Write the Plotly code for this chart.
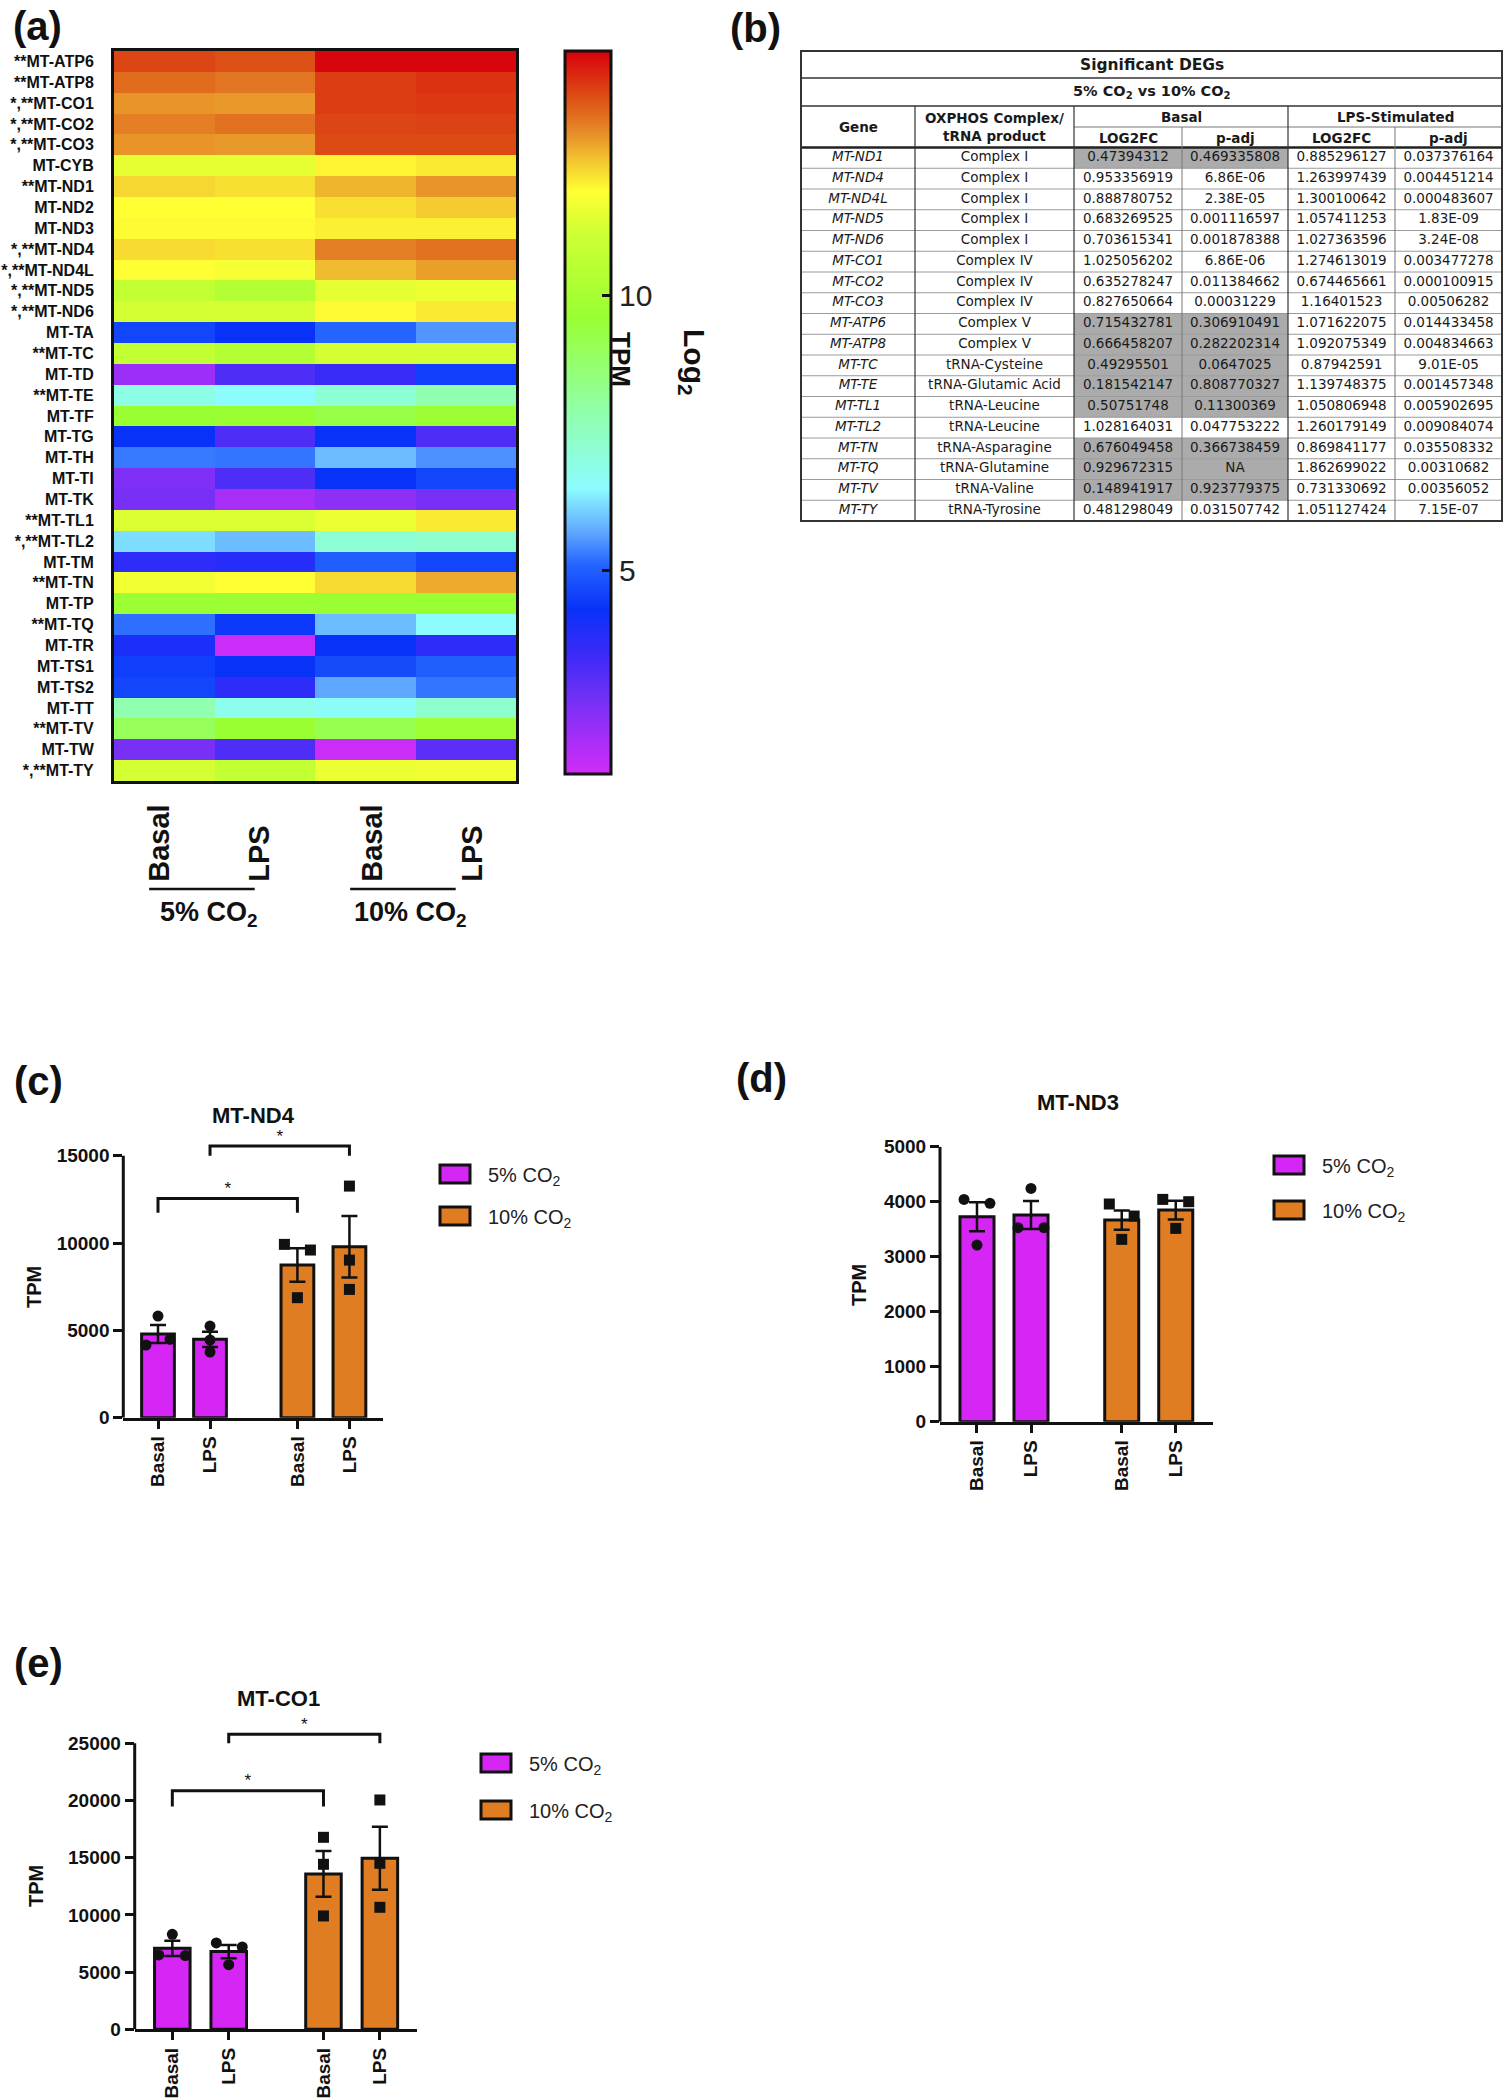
import plotly.graph_objects as go

W, H = 1505, 2100
FONT = "Liberation Sans, Arial, sans-serif"
TABLE_FONT = "DejaVu Sans, Verdana, sans-serif"
INK = "#111111"
MAGENTA = "#d526f5"
ORANGE = "#e07c22"

# ---------------- (a) heatmap: log2 TPM ----------------
heat_genes = [
    "**MT-ATP6", "**MT-ATP8", "*,**MT-CO1", "*,**MT-CO2", "*,**MT-CO3", "MT-CYB",
    "**MT-ND1", "MT-ND2", "MT-ND3", "*,**MT-ND4", "*,**MT-ND4L", "*,**MT-ND5",
    "*,**MT-ND6", "MT-TA", "**MT-TC", "MT-TD", "**MT-TE", "MT-TF", "MT-TG", "MT-TH",
    "MT-TI", "MT-TK", "**MT-TL1", "*,**MT-TL2", "MT-TM", "**MT-TN", "MT-TP",
    "**MT-TQ", "MT-TR", "MT-TS1", "MT-TS2", "MT-TT", "**MT-TV", "MT-TW", "*,**MT-TY",
]
heat_conditions = ["Basal", "LPS", "Basal", "LPS"]
heat_groups = ["5% CO<sub>2</sub>", "10% CO<sub>2</sub>"]

log2_5_basal = [13.7, 13.3, 12.9, 13.1, 12.9, 11.5, 12.3, 11.9, 11.95, 12.25, 11.9, 10.8,
                11.2, 4.6, 10.8, 2.1, 6.9, 9.6, 4.3, 5.3, 2.5, 2.6, 11.3, 6.2, 3.7, 11.7,
                9.7, 5.2, 4.0, 4.5, 4.6, 7.8, 9.0, 2.6, 11.2]
log2_5_lps = [13.6, 13.2, 12.85, 13.25, 12.85, 11.5, 12.2, 11.9, 11.95, 12.2, 11.75, 10.4,
              11.25, 4.3, 10.4, 3.2, 6.5, 9.6, 3.2, 5.25, 3.2, 1.9, 11.3, 5.9, 3.8, 11.9,
              9.7, 4.4, 1.4, 4.3, 3.7, 6.8, 9.6, 3.2, 10.8]
log2_10_basal = [14.4, 13.8, 13.8, 13.7, 13.65, 12.0, 12.6, 12.2, 12.05, 13.1, 12.55, 11.5,
                 11.95, 5.1, 11.2, 3.5, 7.2, 9.3, 4.3, 5.9, 4.3, 2.3, 11.6, 7.2, 5.0, 12.25,
                 9.6, 5.9, 4.3, 4.7, 5.7, 6.6, 9.2, 1.4, 11.6]
log2_10_lps = [14.4, 13.9, 13.85, 13.75, 13.65, 12.1, 12.9, 12.4, 12.05, 13.25, 12.8, 11.6,
               12.1, 5.55, 11.2, 4.5, 7.8, 9.7, 3.2, 5.5, 4.6, 2.6, 12.1, 7.3, 4.6, 12.7,
               9.6, 6.5, 3.7, 5.0, 5.25, 7.3, 9.8, 3.0, 11.65]

RAINBOW = [
    [0.0, "#d22cf8"], [0.114, "#6a30f6"], [0.167, "#3a2af8"], [0.228, "#0832f8"],
    [0.289, "#2464ff"], [0.338, "#64acff"], [0.395, "#8cfcff"], [0.494, "#90ffb0"],
    [0.631, "#99ff33"], [0.745, "#ccff33"], [0.806, "#ffff33"], [0.844, "#f4cc30"],
    [0.890, "#e58828"], [0.935, "#dd5015"], [1.0, "#d8000c"],
]

# ---------------- (b) table ----------------
deg_genes = ["MT-ND1", "MT-ND4", "MT-ND4L", "MT-ND5", "MT-ND6", "MT-CO1", "MT-CO2", "MT-CO3",
             "MT-ATP6", "MT-ATP8", "MT-TC", "MT-TE", "MT-TL1", "MT-TL2", "MT-TN", "MT-TQ",
             "MT-TV", "MT-TY"]
deg_products = ["Complex I", "Complex I", "Complex I", "Complex I", "Complex I", "Complex IV",
                "Complex IV", "Complex IV", "Complex V", "Complex V", "tRNA-Cysteine",
                "tRNA-Glutamic Acid", "tRNA-Leucine", "tRNA-Leucine", "tRNA-Asparagine",
                "tRNA-Glutamine", "tRNA-Valine", "tRNA-Tyrosine"]
basal_log2fc = ["0.47394312", "0.953356919", "0.888780752", "0.683269525", "0.703615341",
                "1.025056202", "0.635278247", "0.827650664", "0.715432781", "0.666458207",
                "0.49295501", "0.181542147", "0.50751748", "1.028164031", "0.676049458",
                "0.929672315", "0.148941917", "0.481298049"]
basal_padj = ["0.469335808", "6.86E-06", "2.38E-05", "0.001116597", "0.001878388", "6.86E-06",
              "0.011384662", "0.00031229", "0.306910491", "0.282202314", "0.0647025",
              "0.808770327", "0.11300369", "0.047753222", "0.366738459", "NA", "0.923779375",
              "0.031507742"]
lps_log2fc = ["0.885296127", "1.263997439", "1.300100642", "1.057411253", "1.027363596",
              "1.274613019", "0.674465661", "1.16401523", "1.071622075", "1.092075349",
              "0.87942591", "1.139748375", "1.050806948", "1.260179149", "0.869841177",
              "1.862699022", "0.731330692", "1.051127424"]
lps_padj = ["0.037376164", "0.004451214", "0.000483607", "1.83E-09", "3.24E-08", "0.003477278",
            "0.000100915", "0.00506282", "0.014433458", "0.004834663", "9.01E-05",
            "0.001457348", "0.005902695", "0.009084074", "0.035508332", "0.00310682",
            "0.00356052", "7.15E-07"]

# ---------------- (c)-(e) bar charts (TPM) ----------------
bar_conditions = ["Basal", "LPS", "Basal", "LPS"]
co2_groups = ["5% CO<sub>2</sub>", "10% CO<sub>2</sub>"]

nd4_mean = [4793, 4486, 8745, 9794]
nd4_sem = [510, 435, 965, 1760]
nd4_points = [[5823, 4163, 4486], [5250, 4450, 3760], [9927, 9603, 6874], [13265, 9026, 7347]]
nd4_brackets = [(0, 2, 12560, 11740), (1, 3, 15560, 15000)]

nd3_mean = [3727, 3758, 3667, 3848]
nd3_sem = [265, 254, 175, 170]
nd3_points = [[4042, 3970, 3212], [4242, 3527, 3527], [3958, 3739, 3315], [4042, 4000, 3515]]
nd3_brackets = []

co1_mean = [7080, 6790, 13578, 14948]
co1_sem = [670, 580, 2000, 2750]
co1_points = [[8300, 6500, 6450], [7550, 7200, 5650], [16783, 14423, 9907], [20047, 14510, 10664]]
co1_brackets = [(0, 2, 20860, 19470), (1, 3, 25790, 25000)]


def fx(p):
    return p / W


def fy(p):
    return 1 - p / H


fig = go.Figure()
shapes, annotations = [], []
layout_axes = {}


def note(x, y, text, size, textangle=0, xanchor="center", yanchor="middle", color=INK):
    annotations.append(dict(x=fx(x), y=fy(y), xref="paper", yref="paper", text=text,
                            textangle=textangle, showarrow=False, xanchor=xanchor,
                            yanchor=yanchor, font=dict(family=FONT, size=size, color=color)))


# ================= (a) heatmap =================
z = [list(r) for r in zip(log2_5_basal, log2_5_lps, log2_10_basal, log2_10_lps)]
fig.add_trace(go.Heatmap(
    z=z, x=list(range(len(heat_conditions))), y=heat_genes,
    colorscale=RAINBOW, zmin=1.3, zmax=14.45,
    xaxis="x", yaxis="y", hoverinfo="skip",
    colorbar=dict(
        x=fx(565), xanchor="left", xpad=0, y=fy(51), yanchor="top", ypad=0,
        lenmode="pixels", len=723, thickness=46,
        outlinewidth=3, outlinecolor=INK,
        tickvals=[5, 10], ticks="inside", ticklen=10, tickwidth=2.5, tickcolor=INK,
        tickfont=dict(family=FONT, size=30, color="#222"),
    ),
))
layout_axes["xaxis"] = dict(
    domain=[fx(114), fx(516)], range=[-0.5, 3.5], showticklabels=False, ticks="",
    showgrid=False, zeroline=False, showline=True, mirror=True, linewidth=3,
    linecolor=INK, anchor="y", automargin=False,
)
layout_axes["yaxis"] = dict(
    domain=[fy(781), fy(51)], autorange="reversed", showgrid=False, zeroline=False,
    showline=True, mirror=True, linewidth=3, linecolor=INK, ticks="",
    ticklabelstandoff=14, anchor="x", automargin=False,
    tickfont=dict(family=FONT, size=16, color=INK, weight="bold"),
)

for i, cond in enumerate(heat_conditions):
    annotations.append(dict(
        x=i, xref="x", y=fy(884), yref="paper", text=f"<b>{cond}</b>", textangle=-90,
        xanchor="center", yanchor="bottom", showarrow=False, xshift=-6 if i < 2 else 6,
        font=dict(family=FONT, size=29, color=INK),
    ))
for g, label in enumerate(heat_groups):
    shapes.append(dict(type="line", xref="x", yref="paper", x0=2 * g - 0.15, x1=2 * g + 0.9,
                       y0=fy(889), y1=fy(889), line=dict(color=INK, width=2.5)))
    annotations.append(dict(
        x=2 * g + 0.45, xref="x", y=fy(914), yref="paper", text=f"<b>{label}</b>",
        showarrow=False, xanchor="center", yanchor="middle",
        font=dict(family=FONT, size=27, color=INK),
    ))
note(621, 359, "<b>TPM</b>", 26, textangle=90)
note(693, 362, "<b>Log<sub>2</sub></b>", 30, textangle=90)

# ================= (b) table =================
col_edges = [0, 114, 273, 381, 487, 594, 701]
head_edges = [0, 27, 55, 76, 96.5]
row_h = 20.75
n_rows = len(deg_genes)
body_top = head_edges[-1]
body_bottom = body_top + n_rows * row_h

layout_axes["xaxis2"] = dict(domain=[fx(798), fx(1505)], range=[-3, 704], visible=False,
                             anchor="y2", automargin=False)
layout_axes["yaxis2"] = dict(domain=[fy(524), fy(48)], range=[473, -3], visible=False,
                             anchor="x2", automargin=False)

# grey cells: basal comparison not significant (p-adj > 0.05 or NA)
for r, p in enumerate(basal_padj):
    if p == "NA" or float(p) > 0.05:
        shapes.append(dict(type="rect", xref="x2", yref="y2", layer="below",
                           x0=col_edges[2], x1=col_edges[4],
                           y0=body_top + r * row_h, y1=body_top + (r + 1) * row_h,
                           fillcolor="#ababab", line=dict(width=0)))


def tline(x0, x1, y0, y1, w=1, c="#444"):
    shapes.append(dict(type="line", xref="x2", yref="y2", x0=x0, x1=x1, y0=y0, y1=y1,
                       line=dict(color=c, width=w)))


for r in range(1, n_rows):
    yy = body_top + r * row_h
    tline(0, col_edges[-1], yy, yy, 1, "#9a9a9a")
tline(0, col_edges[-1], head_edges[1], head_edges[1], 1.5, "#333")
tline(0, col_edges[-1], head_edges[2], head_edges[2], 1.5, "#333")
tline(col_edges[2], col_edges[-1], head_edges[3], head_edges[3], 1, "#777")
tline(0, col_edges[-1], body_top, body_top, 2.5, "#222")
for k in (1, 2, 4):
    tline(col_edges[k], col_edges[k], head_edges[2], body_bottom, 1.2, "#333")
for k in (3, 5):
    tline(col_edges[k], col_edges[k], head_edges[3], body_bottom, 1, "#777")
shapes.append(dict(type="rect", xref="x2", yref="y2", x0=0, x1=col_edges[-1], y0=0,
                   y1=body_bottom, line=dict(color="#333", width=2)))

cx = [(col_edges[k] + col_edges[k + 1]) / 2 for k in range(6)]
tx, ty, tt = [], [], []
for r in range(n_rows):
    yy = body_top + (r + 0.5) * row_h
    cells = [f"<i>{deg_genes[r]}</i>", deg_products[r], basal_log2fc[r], basal_padj[r],
             lps_log2fc[r], lps_padj[r]]
    for k, txt in enumerate(cells):
        tx.append(cx[k])
        ty.append(yy)
        tt.append(txt)
fig.add_trace(go.Scatter(x=tx, y=ty, text=tt, mode="text", xaxis="x2", yaxis="y2",
                         textfont=dict(family=TABLE_FONT, size=13.5, color="#1a1a1a"),
                         hoverinfo="skip", cliponaxis=False))

hf = dict(family=TABLE_FONT, size=13.5, color="#1a1a1a")


def head(x, y, text, size=13.5):
    annotations.append(dict(x=x, y=y, xref="x2", yref="y2", text=f"<b>{text}</b>",
                            showarrow=False, xanchor="center", yanchor="middle",
                            font=dict(hf, size=size)))


head(col_edges[-1] / 2, 13.5, "Significant DEGs", 15.5)
head(col_edges[-1] / 2, 41, "5% CO<sub>2</sub> vs 10% CO<sub>2</sub>", 14.5)
head(cx[0], 76, "Gene")
head(cx[1], 76, "OXPHOS Complex/<br>tRNA product")
head((cx[2] + cx[3]) / 2, 65.5, "Basal")
head((cx[4] + cx[5]) / 2, 65.5, "LPS-Stimulated")
for k, lab in zip(range(2, 6), ["LOG2FC", "p-adj", "LOG2FC", "p-adj"]):
    head(cx[k], 86.5, lab)

# ================= (c)-(e) bar panels =================
bar_pos = [0, 1, 2.68, 3.68]

panels = [
    dict(n=3, title="MT-ND4", mean=nd4_mean, sem=nd4_sem, pts=nd4_points,
         brackets=nd4_brackets, jitter=[[0, -0.23, 0.23], [0, 0, 0], [-0.25, 0.25, 0], [0, 0, 0]],
         left=123.3, right=383.4, zero=1417.7, ppu=87.3 / 5000, ytop=17500,
         ticks=[0, 5000, 10000, 15000], xr=[-0.667, 4.333],
         title_xy=(253, 1115), tpm_xy=(34, 1287), leg_x=440, leg_y=[1174, 1216],
         label="(c)", label_xy=(12, 1081)),
    dict(n=4, title="MT-ND3", mean=nd3_mean, sem=nd3_sem, pts=nd3_points,
         brackets=nd3_brackets, jitter=[[-0.24, 0.24, 0], [0, -0.24, 0.24], [-0.23, 0.23, 0], [-0.24, 0.24, 0]],
         left=940, right=1213, zero=1421.7, ppu=0.055, ytop=5000,
         ticks=[0, 1000, 2000, 3000, 4000, 5000], xr=[-0.685, 4.37],
         title_xy=(1078, 1102), tpm_xy=(859, 1285), leg_x=1274, leg_y=[1165, 1210],
         label="(d)", label_xy=(734, 1078)),
    dict(n=5, title="MT-CO1", mean=co1_mean, sem=co1_sem, pts=co1_points,
         brackets=co1_brackets, jitter=[[0, -0.24, 0.23], [-0.22, 0.24, 0], [0, 0, 0], [0, 0, 0]],
         left=134.7, right=416.7, zero=2029.3, ppu=57.2 / 5000, ytop=28500,
         ticks=[0, 5000, 10000, 15000, 20000, 25000], xr=[-0.667, 4.333],
         title_xy=(278, 1698), tpm_xy=(36, 1886), leg_x=481, leg_y=[1763, 1810],
         label="(e)", label_xy=(12, 1663)),
]

for p in panels:
    n = p["n"]
    xa, ya = f"x{n}", f"y{n}"
    layout_axes[f"xaxis{n}"] = dict(
        domain=[fx(p["left"]), fx(p["right"])], range=p["xr"], anchor=ya,
        tickvals=bar_pos, ticktext=bar_conditions, tickangle=-90,
        ticks="outside", ticklen=8, tickwidth=2.5, tickcolor=INK,
        showline=True, linewidth=3, linecolor=INK, showgrid=False, zeroline=False,
        automargin=False,
        tickfont=dict(family=FONT, size=19, color=INK, weight="bold"),
    )
    layout_axes[f"yaxis{n}"] = dict(
        domain=[fy(p["zero"]), fy(p["zero"] - p["ytop"] * p["ppu"])],
        range=[0, p["ytop"]], anchor=xa, tickvals=p["ticks"], tickformat="d",
        ticks="outside", ticklen=9, tickwidth=2.5, tickcolor=INK,
        showline=False, showgrid=False, zeroline=False, automargin=False,
        tickfont=dict(family=FONT, size=19, color=INK, weight="bold"),
    )
    # left axis line only up to the last tick
    shapes.append(dict(type="line", xref=f"{xa} domain", yref=ya, x0=0, x1=0,
                       y0=0, y1=p["ticks"][-1], line=dict(color=INK, width=3)))

    for g, color in enumerate([MAGENTA, ORANGE]):
        idx = [2 * g, 2 * g + 1]
        fig.add_trace(go.Bar(
            x=[bar_pos[i] for i in idx], y=[p["mean"][i] for i in idx], width=0.63,
            marker=dict(color=color, line=dict(color=INK, width=3)),
            error_y=dict(type="data", array=[p["sem"][i] for i in idx], color=INK,
                         thickness=2.5, width=8),
            xaxis=xa, yaxis=ya, hoverinfo="skip",
        ))
        px_, py_ = [], []
        for i in idx:
            for v, off in zip(p["pts"][i], p["jitter"][i]):
                px_.append(bar_pos[i] + off)
                py_.append(v)
        fig.add_trace(go.Scatter(
            x=px_, y=py_, mode="markers", xaxis=xa, yaxis=ya, hoverinfo="skip",
            cliponaxis=False,
            marker=dict(symbol="circle" if g == 0 else "square", size=11, color=INK),
        ))

    for (i, j, top, bottom) in p["brackets"]:
        fig.add_trace(go.Scatter(
            x=[bar_pos[i], bar_pos[i], bar_pos[j], bar_pos[j]], y=[bottom, top, top, bottom],
            mode="lines", line=dict(color=INK, width=3), xaxis=xa, yaxis=ya,
            hoverinfo="skip",
        ))
        fig.add_trace(go.Scatter(
            x=[(bar_pos[i] + bar_pos[j]) / 2], y=[top], text=["*"], mode="text",
            textposition="top center", textfont=dict(family=FONT, size=17, color=INK),
            xaxis=xa, yaxis=ya, hoverinfo="skip", cliponaxis=False,
        ))

    note(*p["title_xy"], f"<b>{p['title']}</b>", 22)
    note(*p["tpm_xy"], "<b>TPM</b>", 20, textangle=-90)
    for label, color, yc in zip(co2_groups, [MAGENTA, ORANGE], p["leg_y"]):
        shapes.append(dict(type="rect", xref="paper", yref="paper",
                           x0=fx(p["leg_x"]), x1=fx(p["leg_x"] + 30),
                           y0=fy(yc + 9), y1=fy(yc - 9), fillcolor=color,
                           line=dict(color=INK, width=3)))
        note(p["leg_x"] + 46, yc + 2, label, 20, xanchor="left", color="#222")
    note(*p["label_xy"], f"<b>{p['label']}</b>", 40, xanchor="left")

note(11, 26, "<b>(a)</b>", 40, xanchor="left")
note(728, 28, "<b>(b)</b>", 40, xanchor="left")

fig.update_layout(
    width=W, height=H, margin=dict(l=0, r=0, t=0, b=0, autoexpand=False),
    paper_bgcolor="white", plot_bgcolor="white", showlegend=False,
    shapes=shapes, annotations=annotations, **layout_axes,
)

fig.write_html("out.html", config={"displayModeBar": False},
               post_script="document.body.style.margin='0px';")
